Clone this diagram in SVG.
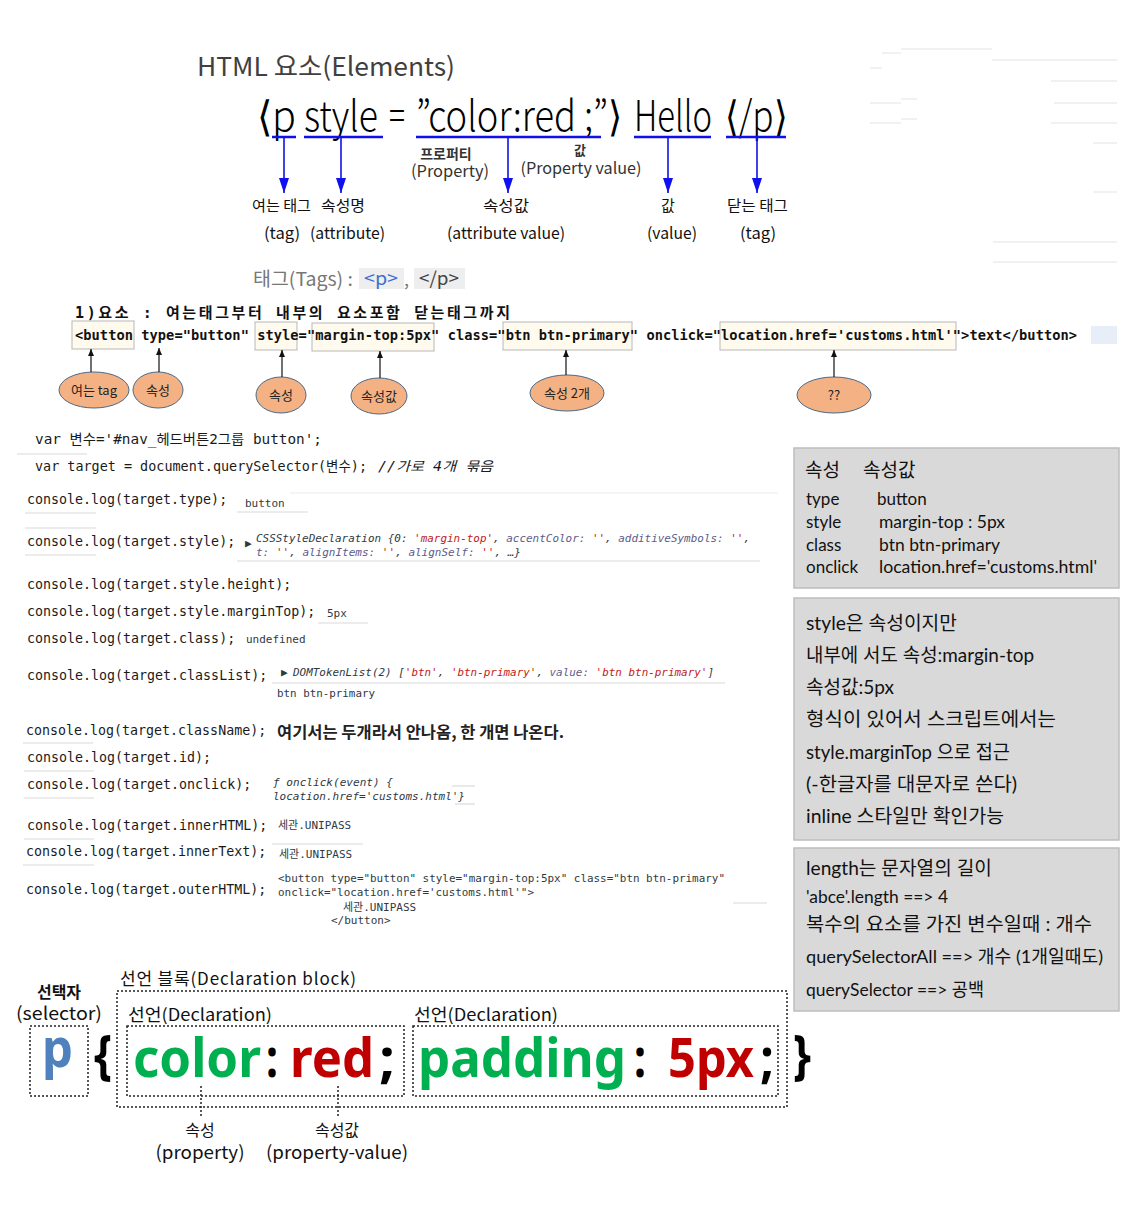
<svg xmlns="http://www.w3.org/2000/svg" width="1147" height="1213" viewBox="0 0 1147 1213">
<defs>
<style>
.kr{font-family:"Noto Sans CJK KR","Noto Sans",sans-serif;}
.mono{font-family:"DejaVu Sans Mono","Noto Sans CJK KR",monospace;}
.code{font-size:13.3px;fill:#1a1a1a;}
.out{font-size:11px;fill:#303942;}
.it{font-style:italic;}
.str{fill:#c41a16;}
.key{fill:#5c5c8a;}
.faint{stroke:#ececec;stroke-width:1.5;}
.sep{stroke:#dadada;stroke-width:1.2;}
.uline{stroke:#1010ee;stroke-width:2.5;}
.arrowb{stroke:#1010ee;stroke-width:1.6;fill:none;marker-end:url(#ab);}
.arrowk{stroke:#111;stroke-width:1.2;fill:none;marker-end:url(#ak);}
.ell{fill:#f4b183;stroke:#4a6a8a;stroke-width:1;}
.etxt{font-size:13px;fill:#222;text-anchor:middle;}
.hbox{fill:#fffaee;stroke:#b8b8b8;stroke-width:1;}
.gbox{fill:#d9d9d9;stroke:#bdbdbd;stroke-width:1.5;}
.btxt{font-family:"Lato","Noto Sans CJK KR",sans-serif;fill:#111;}
.dot{fill:none;stroke:#222;stroke-width:1.5;stroke-dasharray:2 2;}
.big{font-family:"Noto Sans","Noto Sans CJK KR",sans-serif;font-weight:bold;font-size:54px;}
.main{font-family:"Noto Sans CJK KR","DejaVu Sans",sans-serif;font-size:42px;font-weight:300;fill:#000;}
</style>
<marker id="ab" markerUnits="userSpaceOnUse" markerWidth="15" markerHeight="10" viewBox="0 0 15 10" refX="15" refY="5" orient="auto"><path d="M0,0 L15,5 L0,10 z" fill="#1010ee"/></marker>
<marker id="ak" markerUnits="userSpaceOnUse" markerWidth="7" markerHeight="6" viewBox="0 0 7 6" refX="7" refY="3" orient="auto"><path d="M0,0 L7,3 L0,6 z" fill="#111"/></marker>
</defs>
<rect x="0" y="0" width="1147" height="1213" fill="#fff"/>

<g id="faint-lines">
<line class="faint" x1="901" y1="49" x2="992" y2="49"/>
<line class="faint" x1="882" y1="53" x2="901" y2="53"/>
<line class="faint" x1="992" y1="60" x2="1117" y2="60"/>
<line class="faint" x1="870" y1="68" x2="882" y2="68"/>
<line class="faint" x1="1051" y1="81" x2="1117" y2="81"/>
<line class="faint" x1="870" y1="103" x2="901" y2="103"/>
<line class="faint" x1="901" y1="99" x2="917" y2="99"/>
<line class="faint" x1="1054" y1="103" x2="1117" y2="103"/>
<line class="faint" x1="870" y1="123" x2="901" y2="123"/>
<line class="faint" x1="901" y1="119" x2="917" y2="119"/>
<line class="faint" x1="1051" y1="123" x2="1117" y2="123"/>
<line class="faint" x1="1093" y1="143" x2="1117" y2="143"/>
<line class="faint" x1="1093" y1="192" x2="1117" y2="192"/>
<line class="faint" x1="993" y1="242" x2="1117" y2="242"/>
<line class="faint" x1="993" y1="262" x2="1117" y2="262"/>
</g>

<g id="title">
<text class="kr" x="197" y="76" font-size="26" fill="#404040" textLength="258" lengthAdjust="spacingAndGlyphs">HTML 요소(Elements)</text>
</g>

<g id="html-line">
<text class="main" x="257" y="131" textLength="39" lengthAdjust="spacingAndGlyphs">⟨p</text>
<text class="main" x="304" y="131" textLength="74" lengthAdjust="spacingAndGlyphs">style</text>
<text class="main" x="389" y="131" textLength="16" lengthAdjust="spacingAndGlyphs">=</text>
<text class="main" x="416" y="131" textLength="206" lengthAdjust="spacingAndGlyphs">”color:red ;”⟩</text>
<text class="main" x="634" y="131" textLength="78" lengthAdjust="spacingAndGlyphs">Hello</text>
<text class="main" x="725" y="131" textLength="62" lengthAdjust="spacingAndGlyphs">⟨/p⟩</text>
<line class="uline" x1="272" y1="137" x2="296" y2="137"/>
<line class="uline" x1="304" y1="137" x2="383" y2="137"/>
<line class="uline" x1="416" y1="137" x2="601" y2="137"/>
<line class="uline" x1="634" y1="137" x2="711" y2="137"/>
<line class="uline" x1="726" y1="137" x2="786" y2="137"/>
</g>

<g id="html-labels" class="kr" fill="#111">
<text x="446" y="159" font-size="14" text-anchor="middle" font-weight="bold" fill="#333">프로퍼티</text>
<text x="450" y="177" font-size="16.5" text-anchor="middle" fill="#333" textLength="78" lengthAdjust="spacingAndGlyphs">(Property)</text>
<text x="580" y="155" font-size="13" text-anchor="middle" font-weight="bold" fill="#333">값</text>
<text x="581" y="174" font-size="16" text-anchor="middle" fill="#333" textLength="121" lengthAdjust="spacingAndGlyphs">(Property value)</text>
<text x="252" y="211" font-size="15" textLength="59" lengthAdjust="spacingAndGlyphs">여는 태그</text>
<text x="321" y="211" font-size="15" textLength="44" lengthAdjust="spacingAndGlyphs">속성명</text>
<text x="483" y="211" font-size="15" textLength="46" lengthAdjust="spacingAndGlyphs">속성값</text>
<text x="661" y="211" font-size="15">값</text>
<text x="727" y="211" font-size="15" textLength="61" lengthAdjust="spacingAndGlyphs">닫는 태그</text>
<text x="264" y="239" font-size="16" textLength="36" lengthAdjust="spacingAndGlyphs">(tag)</text>
<text x="310" y="239" font-size="16" textLength="75" lengthAdjust="spacingAndGlyphs">(attribute)</text>
<text x="447" y="239" font-size="16" textLength="118" lengthAdjust="spacingAndGlyphs">(attribute value)</text>
<text x="647" y="239" font-size="16" textLength="50" lengthAdjust="spacingAndGlyphs">(value)</text>
<text x="740" y="239" font-size="16" textLength="36" lengthAdjust="spacingAndGlyphs">(tag)</text>
</g>

<g id="tags-line" class="kr">
<text x="253" y="286" font-size="19" fill="#777" textLength="100" lengthAdjust="spacingAndGlyphs">태그(Tags) :</text>
<rect x="359" y="268" width="45" height="21" fill="#eeeeee"/>
<text x="364" y="285" font-size="18" fill="#3c6fd6" textLength="34" lengthAdjust="spacingAndGlyphs">&lt;p&gt;</text>
<text x="404" y="286" font-size="18" fill="#777">,</text>
<rect x="414" y="268" width="51" height="21" fill="#eeeeee"/>
<text x="419" y="285" font-size="18" fill="#444" textLength="40" lengthAdjust="spacingAndGlyphs">&lt;/p&gt;</text>
</g>

<g id="element-desc">
<text class="mono" x="75" y="318" font-size="15" font-weight="bold" fill="#111" textLength="435" lengthAdjust="spacing">1)요소 : 여는태그부터 내부의 요소포함 닫는태그까지</text>
</g>

<g id="button-code">
<rect class="hbox" x="72" y="321" width="62" height="28"/>
<rect class="hbox" x="255" y="322" width="42" height="28"/>
<rect class="hbox" x="312" y="323" width="122" height="28"/>
<rect class="hbox" x="503" y="322" width="129" height="28"/>
<rect class="hbox" x="720" y="322" width="236" height="28"/>
<rect x="1091" y="326" width="26" height="18" fill="#e8eef8"/>
<text class="mono" x="75" y="340" font-size="13.7" font-weight="bold" fill="#111" textLength="1002" lengthAdjust="spacing">&lt;button type="button" style="margin-top:5px" class="btn btn-primary" onclick="location.href='customs.html'"&gt;text&lt;/button&gt;</text>
</g>

<g id="ell-open-tag"><ellipse class="ell" cx="94" cy="390" rx="35" ry="18"/><text class="kr etxt" x="94" y="395">여는 tag</text></g>
<g id="ell-attr1"><ellipse class="ell" cx="158" cy="390" rx="25" ry="18"/><text class="kr etxt" x="158" y="395">속성</text></g>
<g id="ell-attr2"><ellipse class="ell" cx="281" cy="395" rx="25" ry="18"/><text class="kr etxt" x="281" y="400">속성</text></g>
<g id="ell-attrval"><ellipse class="ell" cx="379" cy="396" rx="28" ry="18"/><text class="kr etxt" x="379" y="401">속성값</text></g>
<g id="ell-attr-two"><ellipse class="ell" cx="567" cy="393" rx="37" ry="18"/><text class="kr etxt" x="567" y="398">속성 2개</text></g>
<g id="ell-unknown"><ellipse class="ell" cx="834" cy="395" rx="37" ry="18"/><text class="kr etxt" x="834" y="400">??</text></g>

<g id="connectors">
<line class="arrowb" x1="284" y1="138" x2="284" y2="193"/>
<line class="arrowb" x1="341" y1="138" x2="341" y2="193"/>
<line class="arrowb" x1="508" y1="138" x2="508" y2="193"/>
<line class="arrowb" x1="668" y1="138" x2="668" y2="193"/>
<line class="arrowb" x1="757" y1="138" x2="757" y2="193"/>
<line class="arrowk" x1="91" y1="372" x2="91" y2="349"/>
<line class="arrowk" x1="159" y1="372" x2="159" y2="348"/>
<line class="arrowk" x1="282" y1="377" x2="282" y2="350"/>
<line class="arrowk" x1="380" y1="378" x2="380" y2="351"/>
<line class="arrowk" x1="566" y1="375" x2="566" y2="350"/>
<line class="arrowk" x1="834" y1="377" x2="834" y2="350"/>
<line class="dot" x1="201" y1="1086" x2="201" y2="1118"/>
<line class="dot" x1="338" y1="1086" x2="338" y2="1118"/>
</g>

<g id="code-lines">
<line class="sep" x1="17" y1="454" x2="87" y2="454"/>
<line class="sep" x1="25" y1="513" x2="96" y2="513"/>
<line class="sep" x1="237" y1="512" x2="308" y2="512"/>
<line class="sep" x1="290" y1="493" x2="778" y2="493" stroke-opacity="0.5"/>
<line class="sep" x1="25" y1="528" x2="96" y2="528"/>
<line class="sep" x1="25" y1="555" x2="96" y2="555"/>
<line class="sep" x1="237" y1="561" x2="760" y2="561"/>
<line class="sep" x1="318" y1="623" x2="368" y2="623"/>
<line class="sep" x1="272" y1="683" x2="725" y2="683"/>
<line class="sep" x1="23" y1="743" x2="93" y2="743"/>
<line class="sep" x1="24" y1="771" x2="94" y2="771"/>
<line class="sep" x1="452" y1="786" x2="475" y2="786"/>
<line class="sep" x1="455" y1="804" x2="475" y2="804"/>
<line class="sep" x1="24" y1="798" x2="94" y2="798"/>
<line class="sep" x1="24" y1="839" x2="94" y2="839"/>
<line class="sep" x1="272" y1="844" x2="363" y2="844"/>
<line class="sep" x1="23" y1="865" x2="94" y2="865"/>
<line class="sep" x1="733" y1="903" x2="767" y2="903"/>

<text class="mono code" x="35" y="444" textLength="287" lengthAdjust="spacingAndGlyphs">var 변수='#nav_헤드버튼2그룹 button';</text>
<text class="mono code" x="35" y="471" textLength="332" lengthAdjust="spacingAndGlyphs">var target = document.querySelector(변수);</text>
<text class="mono code it" x="378" y="471" textLength="115" lengthAdjust="spacingAndGlyphs">//가로 4개 묶음</text>

<text class="mono code" x="27" y="504">console.log(target.type);</text>
<text class="mono out" x="245" y="507">button</text>

<text class="mono code" x="27" y="546">console.log(target.style);</text>
<text class="mono out" x="245" y="547" font-size="8" fill="#777">▶</text>
<text class="mono out it" x="256" y="542" textLength="494" lengthAdjust="spacingAndGlyphs">CSSStyleDeclaration {0: <tspan class="str">'margin-top'</tspan>, <tspan class="key">accentColor:</tspan> <tspan class="str">''</tspan>, <tspan class="key">additiveSymbols:</tspan> <tspan class="str">''</tspan>,</text>
<text class="mono out it" x="256" y="556" textLength="265" lengthAdjust="spacingAndGlyphs"><tspan class="key">t:</tspan> <tspan class="str">''</tspan>, <tspan class="key">alignItems:</tspan> <tspan class="str">''</tspan>, <tspan class="key">alignSelf:</tspan> <tspan class="str">''</tspan>, …}</text>

<text class="mono code" x="27" y="589">console.log(target.style.height);</text>
<text class="mono code" x="27" y="616">console.log(target.style.marginTop);</text>
<text class="mono out" x="327" y="617">5px</text>
<text class="mono code" x="27" y="643">console.log(target.class);</text>
<text class="mono out" x="246" y="643" fill="#808080">undefined</text>
<text class="mono code" x="27" y="680">console.log(target.classList);</text>
<text class="mono out" x="281" y="676" font-size="8" fill="#777">▶</text>
<text class="mono out it" x="293" y="676" textLength="421" lengthAdjust="spacingAndGlyphs">DOMTokenList(2) [<tspan class="str">'btn'</tspan>, <tspan class="str">'btn-primary'</tspan>, <tspan class="key">value:</tspan> <tspan class="str">'btn btn-primary'</tspan>]</text>
<text class="mono out" x="277" y="697" textLength="98" lengthAdjust="spacingAndGlyphs">btn btn-primary</text>

<text class="mono code" x="26" y="735">console.log(target.className);</text>
<text class="kr" x="277" y="738" font-size="16" font-weight="bold" fill="#222" textLength="287" lengthAdjust="spacingAndGlyphs">여기서는 두개라서 안나옴, 한 개면 나온다.</text>
<text class="mono code" x="27" y="762">console.log(target.id);</text>
<text class="mono code" x="27" y="789">console.log(target.onclick);</text>
<text class="mono out it" x="273" y="786" fill="#3d3d8c" textLength="120" lengthAdjust="spacingAndGlyphs">ƒ onclick(event) {</text>
<text class="mono out it" x="273" y="800" fill="#2a3a5a" textLength="192" lengthAdjust="spacingAndGlyphs">location.href='customs.html'}</text>
<text class="mono code" x="27" y="830">console.log(target.innerHTML);</text>
<text class="mono out" x="278" y="829">세관.UNIPASS</text>
<text class="mono code" x="26" y="856">console.log(target.innerText);</text>
<text class="mono out" x="279" y="858">세관.UNIPASS</text>
<text class="mono code" x="26" y="894">console.log(target.outerHTML);</text>
<text class="mono out" x="278" y="882" textLength="447" lengthAdjust="spacingAndGlyphs">&lt;button type="button" style="margin-top:5px" class="btn btn-primary"</text>
<text class="mono out" x="278" y="896" textLength="256" lengthAdjust="spacingAndGlyphs">onclick="location.href='customs.html'"&gt;</text>
<text class="mono out" x="343" y="911">세관.UNIPASS</text>
<text class="mono out" x="331" y="924">&lt;/button&gt;</text>
</g>

<g id="box-attrs">
<rect class="gbox" x="794" y="448" width="325" height="140"/>
<text class="kr" x="805" y="477" font-size="19" fill="#111">속성</text>
<text class="kr" x="863" y="477" font-size="19" fill="#111">속성값</text>
<text class="btxt" x="806" y="505" font-size="17">type</text>
<text class="btxt" x="877" y="505" font-size="17">button</text>
<text class="btxt" x="806" y="528" font-size="17">style</text>
<text class="btxt" x="879" y="528" font-size="17" textLength="126" lengthAdjust="spacingAndGlyphs">margin-top : 5px</text>
<text class="btxt" x="806" y="551" font-size="17">class</text>
<text class="btxt" x="879" y="551" font-size="17" textLength="121" lengthAdjust="spacingAndGlyphs">btn btn-primary</text>
<text class="btxt" x="806" y="573" font-size="17">onclick</text>
<text class="btxt" x="879" y="573" font-size="17" textLength="218" lengthAdjust="spacingAndGlyphs">location.href='customs.html'</text>
</g>

<g id="box-style-note">
<rect class="gbox" x="794" y="598" width="325" height="242"/>
<text class="btxt" x="806" y="630" font-size="19" textLength="151" lengthAdjust="spacingAndGlyphs">style은 속성이지만</text>
<text class="btxt" x="806" y="662" font-size="19" textLength="228" lengthAdjust="spacingAndGlyphs">내부에 서도 속성:margin-top</text>
<text class="btxt" x="806" y="694" font-size="19" textLength="88" lengthAdjust="spacingAndGlyphs">속성값:5px</text>
<text class="btxt" x="806" y="726" font-size="19" textLength="250" lengthAdjust="spacingAndGlyphs">형식이 있어서 스크립트에서는</text>
<text class="btxt" x="806" y="759" font-size="19" textLength="204" lengthAdjust="spacingAndGlyphs">style.marginTop 으로 접근</text>
<text class="btxt" x="806" y="791" font-size="19" textLength="211" lengthAdjust="spacingAndGlyphs">(-한글자를 대문자로 쓴다)</text>
<text class="btxt" x="806" y="823" font-size="19" textLength="198" lengthAdjust="spacingAndGlyphs">inline 스타일만 확인가능</text>
</g>

<g id="box-length-note">
<rect class="gbox" x="794" y="848" width="325" height="163"/>
<text class="btxt" x="806" y="875" font-size="19" textLength="186" lengthAdjust="spacingAndGlyphs">length는 문자열의 길이</text>
<text class="btxt" x="806" y="903" font-size="17" textLength="142" lengthAdjust="spacingAndGlyphs">'abce'.length ==&gt; 4</text>
<text class="btxt" x="806" y="931" font-size="19" textLength="286" lengthAdjust="spacingAndGlyphs">복수의 요소를 가진 변수일때 : 개수</text>
<text class="btxt" x="806" y="963" font-size="18" textLength="297" lengthAdjust="spacingAndGlyphs">querySelectorAll ==&gt; 개수 (1개일때도)</text>
<text class="btxt" x="806" y="996" font-size="18" textLength="178" lengthAdjust="spacingAndGlyphs">querySelector ==&gt; 공백</text>
</g>

<g id="css-selector">
<text class="kr" x="59" y="998" font-size="16" font-weight="bold" fill="#111" text-anchor="middle">선택자</text>
<text class="kr" x="16" y="1020" font-size="18" fill="#111" textLength="86" lengthAdjust="spacingAndGlyphs">(selector)</text>
<rect class="dot" x="30" y="1026" width="58" height="70"/>
<text class="big" x="42" y="1067" font-size="50" fill="#4f81bd" textLength="31" lengthAdjust="spacingAndGlyphs">p</text>
</g>

<g id="css-block">
<text class="kr" x="120" y="985" font-size="17" fill="#111" textLength="236" lengthAdjust="spacing">선언 블록(Declaration block)</text>
<rect class="dot" x="117" y="991" width="670" height="116"/>
<text class="big" x="94" y="1074" fill="#000" textLength="18" lengthAdjust="spacingAndGlyphs">{</text>
<text class="big" x="793" y="1074" fill="#000" textLength="18" lengthAdjust="spacingAndGlyphs">}</text>
</g>

<g id="css-decl-1">
<text class="kr" x="128" y="1021" font-size="17" fill="#111" textLength="144" lengthAdjust="spacingAndGlyphs">선언(Declaration)</text>
<rect class="dot" x="127" y="1026" width="277" height="70"/>
<text class="big" x="133" y="1077" fill="#00b050" textLength="128" lengthAdjust="spacingAndGlyphs">color</text>
<text class="big" x="266" y="1077" fill="#000" textLength="12" lengthAdjust="spacingAndGlyphs">:</text>
<text class="big" x="290" y="1077" fill="#c00000" textLength="84" lengthAdjust="spacingAndGlyphs">red</text>
<text class="big" x="379" y="1077" fill="#000" textLength="16" lengthAdjust="spacingAndGlyphs">;</text>
</g>

<g id="css-decl-2">
<text class="kr" x="414" y="1021" font-size="17" fill="#111" textLength="144" lengthAdjust="spacingAndGlyphs">선언(Declaration)</text>
<rect class="dot" x="413" y="1026" width="365" height="70"/>
<text class="big" x="418" y="1077" fill="#00b050" textLength="208" lengthAdjust="spacingAndGlyphs">padding</text>
<text class="big" x="634" y="1077" fill="#000" textLength="12" lengthAdjust="spacingAndGlyphs">:</text>
<text class="big" x="668" y="1077" fill="#c00000" textLength="86" lengthAdjust="spacingAndGlyphs">5px</text>
<text class="big" x="760" y="1077" fill="#000" textLength="14" lengthAdjust="spacingAndGlyphs">;</text>
</g>

<g id="css-labels" class="kr" fill="#111">
<text x="200" y="1136" font-size="16" text-anchor="middle">속성</text>
<text x="200" y="1159" font-size="18" text-anchor="middle" textLength="89" lengthAdjust="spacingAndGlyphs">(property)</text>
<text x="337" y="1136" font-size="16" text-anchor="middle">속성값</text>
<text x="337" y="1159" font-size="18" text-anchor="middle" textLength="142" lengthAdjust="spacingAndGlyphs">(property-value)</text>
</g>
</svg>
